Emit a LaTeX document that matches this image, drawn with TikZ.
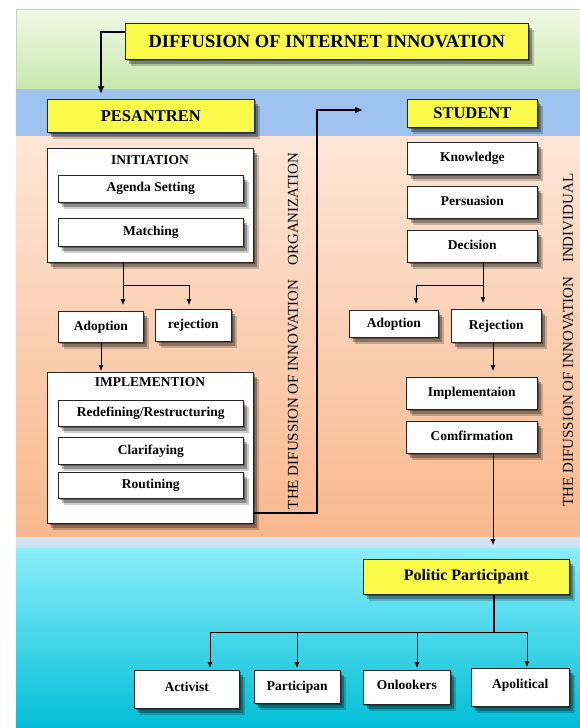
\documentclass[tikz,border=0pt]{standalone}
\usepackage{fontspec}
\setmainfont{Liberation Serif}
\usetikzlibrary{shadows,arrows.meta}
\definecolor{boxyellow}{RGB}{250,250,72}
\definecolor{greentop}{RGB}{240,250,232}
\definecolor{greenbot}{RGB}{200,232,172}
\definecolor{bandblue}{RGB}{158,195,238}
\definecolor{orangetop}{RGB}{253,230,214}
\definecolor{orangebot}{RGB}{248,184,142}
\definecolor{stripblue}{RGB}{208,226,244}
\definecolor{cyantop}{RGB}{140,238,250}
\definecolor{cyanbot}{RGB}{0,190,214}
\begin{document}
\begin{tikzpicture}[x=1pt,y=-1pt,
  softshadow/.style={
    general shadow={shadow xshift=1.5pt,shadow yshift=-2pt,fill=black,opacity=0.35},
    general shadow={shadow xshift=3.5pt,shadow yshift=-4.5pt,fill=black,opacity=0.3},
    general shadow={shadow xshift=5.5pt,shadow yshift=-7pt,fill=black,opacity=0.2}},
  box/.style={draw=black!85,line width=0.6pt,fill=white,softshadow,anchor=north west,
    inner sep=0pt,align=center,font=\bfseries\fontsize{13.5}{15}\selectfont},
  ybox/.style={box,fill=boxyellow},
  cont/.style={draw=black!85,line width=0.6pt,fill=white,softshadow,anchor=north west,inner sep=0pt},
  conlab/.style={font=\bfseries\fontsize{13.5}{15}\selectfont},
  arr/.style={draw=black,line width=0.7pt,-{Latex[length=6pt,width=5pt]}},
  thickarr/.style={draw=black,line width=2pt,-{Latex[length=8pt,width=7pt]}},
  vtext/.style={rotate=90,font=\fontsize{15}{17}\selectfont}]
\useasboundingbox (0,0) rectangle (580,728);
% bands
\shade[top color=greentop,bottom color=greenbot,draw=greenbot!80!black!60] (16,9) rectangle (580,89);
\fill[bandblue] (16,89) rectangle (580,136);
\shade[top color=orangetop,bottom color=orangebot] (16,136) rectangle (580,537);
\fill[stripblue] (16,537) rectangle (580,548);
\shade[top color=cyantop,bottom color=cyanbot] (16,548) rectangle (580,728);

% header nodes
\node[ybox,minimum width=403pt,minimum height=36pt,font=\bfseries\fontsize{18.5}{20}\selectfont] (title) at (125,23) {DIFFUSION OF INTERNET INNOVATION};
\node[ybox,minimum width=207pt,minimum height=33pt,font=\bfseries\fontsize{16.5}{18}\selectfont] (pes) at (47,99) {PESANTREN};
\node[ybox,minimum width=130pt,minimum height=28pt,font=\bfseries\fontsize{16.5}{18}\selectfont] (stu) at (407,99) {STUDENT};

% left column
\node[cont,minimum width=206pt,minimum height=114pt] (init) at (47,148) {};
\node[conlab] (initT) at (150,160) {INITIATION};
\node[box,minimum width=185pt,minimum height=27pt] (agenda) at (58,175) {\raisebox{1.5pt}{Agenda Setting}};
\node[box,minimum width=185pt,minimum height=28pt] (match) at (58,218) {\raisebox{2pt}{Matching}};
\node[box,minimum width=85pt,minimum height=31pt] (adoptL) at (58,311) {Adoption};
\node[box,minimum width=76pt,minimum height=32pt] (rejL) at (155,309) {\raisebox{3pt}{rejection}};
\node[cont,minimum width=206pt,minimum height=151pt] (impl) at (47,372) {};
\node[conlab] (implT) at (150,382) {IMPLEMENTION};
\node[box,minimum width=185pt,minimum height=26pt] (redef) at (58,400) {Redefining/Restructuring};
\node[box,minimum width=185pt,minimum height=27pt] (clar) at (58,437) {\raisebox{2pt}{Clarifaying}};
\node[box,minimum width=185pt,minimum height=26pt] (rout) at (58,472) {\raisebox{2pt}{Routining}};

% right column
\node[box,minimum width=130pt,minimum height=32pt] (know) at (407,142) {\raisebox{3pt}{Knowledge}};
\node[box,minimum width=130pt,minimum height=32pt] (pers) at (407,186) {\raisebox{3pt}{Persuasion}};
\node[box,minimum width=130pt,minimum height=32pt] (deci) at (407,230) {\raisebox{3pt}{Decision}};
\node[box,minimum width=89pt,minimum height=27pt] (adoptR) at (349,310) {\raisebox{1pt}{Adoption}};
\node[box,minimum width=90pt,minimum height=33pt] (rejR) at (451,309) {\raisebox{2pt}{Rejection}};
\node[box,minimum width=131pt,minimum height=32pt] (implm) at (406,377) {\raisebox{3pt}{Implementaion}};
\node[box,minimum width=131pt,minimum height=32pt] (comf) at (406,421) {\raisebox{3pt}{Comfirmation}};

% vertical texts
\node[vtext] (orgtxt) at (293,331) {THE DIFUSSION OF INNOVATION\hspace{0.7em} ORGANIZATION};
\node[vtext] (indtxt) at (568,340) {THE DIFUSSION OF INNOVATION\hspace{0.7em} INDIVIDUAL};

% bottom
\node[ybox,minimum width=206pt,minimum height=35pt,font=\bfseries\fontsize{16}{18}\selectfont] (pp) at (363,559) {\raisebox{2pt}{Politic Participant}};
\node[box,minimum width=105pt,minimum height=38pt] (act) at (134,670) {\raisebox{4pt}{Activist}};
\node[box,minimum width=86pt,minimum height=33pt] (part) at (254,670) {Participan};
\node[box,minimum width=87pt,minimum height=34pt] (onl) at (363,670) {\raisebox{4pt}{Onlookers}};
\node[box,minimum width=98pt,minimum height=38pt] (apol) at (471,668) {\raisebox{6pt}{Apolitical}};

% connectors
\coordinate (stuarr) at (363,110);
\draw[thickarr,shorten >=5pt] (title.west |- 0,32) -| (101,0 |- pes.north);
\draw[thickarr] (impl.east |- 0,513) -| (317,110) -- (stuarr);

\draw[arr,shorten >=6pt] (123,0 |- init.south) -- (123,0 |- adoptL.north);
\draw[arr,shorten >=4pt] (123,285) -| (189,0 |- rejL.north);
\draw[arr,shorten >=1pt] (101,0 |- adoptL.south) -- (101,0 |- impl.north);

\draw[arr,shorten >=6pt] (483,0 |- deci.south) -- (483,0 |- rejR.north);
\draw[arr,shorten >=6pt] (483,285) -| (416,0 |- adoptR.north);
\draw[arr,shorten >=6pt] (493,0 |- rejR.south) -- (493,0 |- implm.north);
\draw[arr,shorten >=14pt] (493,0 |- comf.south) -- (493,0 |- pp.north);

\draw[line width=2.5pt] (494,0 |- pp.south) -- (494,632);
\draw[line width=0.9pt] (210,632) -- (527,632);
\draw[arr,shorten >=2pt] (210,632) -- (210,0 |- act.north);
\draw[arr,shorten >=2pt] (297,632) -- (297,0 |- part.north);
\draw[arr,shorten >=2pt] (417,632) -- (417,0 |- onl.north);
\draw[arr,shorten >=1pt] (527,632) -- (527,0 |- apol.north);
\end{tikzpicture}
\end{document}
